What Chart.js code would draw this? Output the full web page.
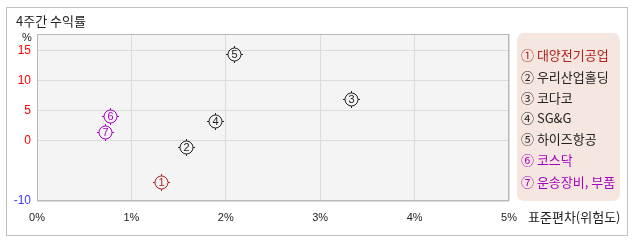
<!DOCTYPE html>
<html><head><meta charset="utf-8">
<script src="https://cdn.jsdelivr.net/npm/chart.js@4/dist/chart.umd.min.js"></script>
<style>
html,body{margin:0;padding:0;background:#fff;}
#wrap{position:relative;width:638px;height:242px;overflow:hidden;font-family:"Noto Sans CJK KR","Noto Sans",sans-serif;}
#frame{position:absolute;left:6px;top:7px;width:620px;height:227px;border:1px solid #c0c0c0;}
#title{position:absolute;left:16px;top:12px;font-size:13px;line-height:17px;color:#222;}
#yunit{position:absolute;left:22px;top:31px;font-size:11px;line-height:12px;color:#222;font-family:"Liberation Sans Narrow","Liberation Sans",sans-serif;}
#xtitle{position:absolute;left:528px;top:208px;font-size:13px;line-height:17px;color:#222;}
#legend{position:absolute;left:517px;top:33px;width:103px;height:168px;background:#f5e7e0;border-radius:7px;}
#legend div{position:absolute;left:4px;font-size:13px;line-height:17px;white-space:nowrap;}
canvas{position:absolute;left:0;top:0;}
</style></head>
<body>
<div id="wrap">
<div id="frame"></div>
<canvas id="c" width="638" height="242"></canvas>
<div id="title">4주간 수익률</div>
<div id="yunit">%</div>
<div id="xtitle">표준편차(위험도)</div>
<div id="legend"></div>
</div>
<script>
const names = ["대양전기공업","우리산업홀딩","코다코","SG&G","하이즈항공","코스닥","운송장비, 부품"];
const marks = ["①","②","③","④","⑤","⑥","⑦"];
const digits = ["1","2","3","4","5","6","7"];
const riskValues = [1.31, 1.58, 3.33, 1.89, 2.09, 0.77, 0.72];
const returnValues = [-6.8, -1.0, 6.9, 3.2, 14.3, 4.1, 1.5];
const colors = ["#b22222","#222222","#222222","#222222","#222222","#a800c0","#a800c0"];
const yTickValues = [-10, 0, 5, 10, 15];
const xTickValues = [0, 1, 2, 3, 4, 5];

// legend
const lg = document.getElementById('legend');
const legTops = [13, 35, 56, 76, 97, 118, 140];
names.forEach((n,i)=>{
  const d=document.createElement('div');
  d.textContent = marks[i] + " " + n;
  d.style.top = legTops[i] + "px";
  d.style.color = colors[i] === "#222222" ? "#222" : colors[i];
  lg.appendChild(d);
});

const markerPlugin = {
  id:'markers',
  afterDatasetsDraw(chart){
    const ctx = chart.ctx;
    const meta = chart.getDatasetMeta(0);
    meta.data.forEach((el,i)=>{
      const x = Math.round(el.x)+0.5, y = Math.round(el.y)+0.5;
      ctx.save();
      ctx.strokeStyle = colors[i];
      ctx.lineWidth = 1;
      ctx.beginPath();
      ctx.arc(x, y, 6.5, 0, Math.PI*2);
      ctx.stroke();
      ctx.beginPath();
      ctx.moveTo(x, y-8.5); ctx.lineTo(x, y-6.5);
      ctx.moveTo(x, y+6.5); ctx.lineTo(x, y+8.5);
      ctx.moveTo(x-8.5, y); ctx.lineTo(x-6.5, y);
      ctx.moveTo(x+6.5, y); ctx.lineTo(x+8.5, y);
      ctx.stroke();
      ctx.fillStyle = colors[i];
      ctx.font = '11px "Liberation Sans Narrow","Liberation Sans",sans-serif';
      ctx.textAlign = 'center';
      ctx.textBaseline = 'middle';
      ctx.fillText(digits[i], x, y+0.5);
      ctx.restore();
    });
  }
};
const bgPlugin = {
  id:'bg',
  beforeDraw(chart){
    const {ctx, chartArea:a} = chart;
    ctx.save();
    ctx.fillStyle = '#f4f4f4';
    ctx.fillRect(a.left, a.top, a.right-a.left, a.bottom-a.top);
    ctx.restore();
  },
  afterDraw(chart){
    const {ctx, chartArea:a} = chart;
    ctx.save();
    ctx.strokeStyle = '#b8b8b8';
    ctx.lineWidth = 1;
    ctx.strokeRect(Math.round(a.left)+0.5, Math.round(a.top)+0.5, Math.round(a.right-a.left)-1, Math.round(a.bottom-a.top)-1);
    ctx.restore();
  }
};

new Chart(document.getElementById('c'), {
  type:'scatter',
  data:{datasets:[{
    data: riskValues.map((v,i)=>({x:v, y:returnValues[i]})),
    pointRadius:7, pointHoverRadius:7,
    backgroundColor:'rgba(0,0,0,0)', borderColor:'rgba(0,0,0,0)'
  }]},
  options:{
    responsive:false, animation:false,
    layout:{padding:{top:34,right:129,left:0,bottom:0}},
    plugins:{legend:{display:false}, tooltip:{enabled:false}},
    scales:{
      x:{
        type:'linear', min:0, max:5,
        afterBuildTicks(s){ s.ticks = xTickValues.map(v=>({value:v})); },
        afterFit(s){ s.height = 41; },
        border:{display:false},
        grid:{color:'#dcdcdc', drawTicks:false},
        ticks:{padding:10, color:'#222', font:{family:'"Liberation Sans Narrow","Liberation Sans",sans-serif', size:11},
          callback:v=>v+'%', maxRotation:0}
      },
      y:{
        type:'linear', min:-10, max:17.7,
        afterBuildTicks(s){ s.ticks = yTickValues.map(v=>({value:v})); },
        afterFit(s){ s.width = 37; },
        border:{display:false},
        grid:{color:'#dcdcdc', drawTicks:false},
        ticks:{padding:6, font:{family:'"Liberation Sans Narrow","Liberation Sans",sans-serif', size:12},
          color:c=> (c.tick && c.tick.value<0) ? '#3c3cff' : '#ff0000',
          callback:v=>String(v)}
      }
    }
  },
  plugins:[bgPlugin, markerPlugin]
});
</script>
</body></html>
